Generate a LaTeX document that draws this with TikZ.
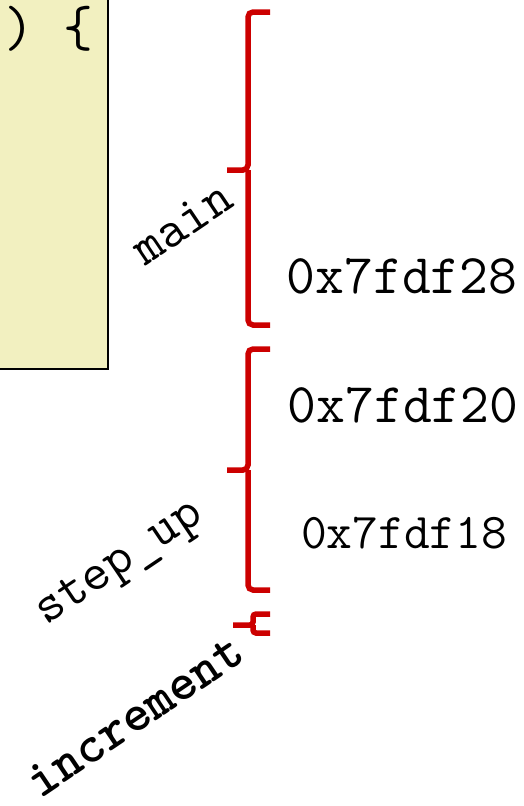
\documentclass[tikz,border=0pt]{standalone}
\usepackage{fontspec}
\usepackage{tikz}
\usetikzlibrary{positioning}

\definecolor{bracered}{RGB}{204,0,0}
\definecolor{codeyellow}{RGB}{242,240,192}
\tikzset{
  stackbrace/.style={line width=5.5pt,bracered,rounded corners=5pt},
  addr/.style={font=\fontsize{56}{56}\selectfont\ttfamily,inner sep=0pt},
  framelabel/.style={font=\fontsize{53}{53}\selectfont\ttfamily,rotate=34,inner sep=0pt},
}

\begin{document}
\begin{tikzpicture}[x=1pt,y=-1pt]
  \useasboundingbox (0,0) rectangle (524,806);
  % code box, cut by the page edge
  \draw[fill=codeyellow,line width=2pt] (-30,-30) rectangle (108,369);
  \node[font=\fontsize{58}{58}\selectfont\ttfamily,inner sep=0pt,anchor=base west] (codeline) at (4,46) {) \{};
  % braces
  \coordinate (mainTip) at (227,170);
  \draw[stackbrace] (270,12) -| (248,170) -- (mainTip);
  \draw[stackbrace] (248,170) |- (270,325);
  \coordinate (stepTip) at (227,470);
  \draw[stackbrace] (270,349) -| (248,470) -- (stepTip);
  \draw[stackbrace] (248,470) |- (270,590);
  \coordinate (incTip) at (233,625);
  \draw[stackbrace,rounded corners=3pt] (270,614) -| (253,625) -- (incTip);
  \draw[stackbrace,rounded corners=3pt] (253,625) |- (270,633);
  % frame names
  \node[framelabel] (mainlabel) at (182,223) {main};
  \node[framelabel] (steplabel) at (121,565) {step\_up};
  \node[framelabel,font=\fontsize{53}{53}\selectfont\ttfamily\bfseries] (inclabel) at (135,716) {increment};
  % stack addresses
  \node[addr,anchor=base] (addrA) at (402,293) {0x7fdf28};
  \node[addr,anchor=base] (addrB) at (403,422) {0x7fdf20};
  \node[addr,anchor=base,font=\fontsize{50}{50}\selectfont\ttfamily] (addrC) at (404,548) {0x7fdf18};
\end{tikzpicture}
\end{document}
